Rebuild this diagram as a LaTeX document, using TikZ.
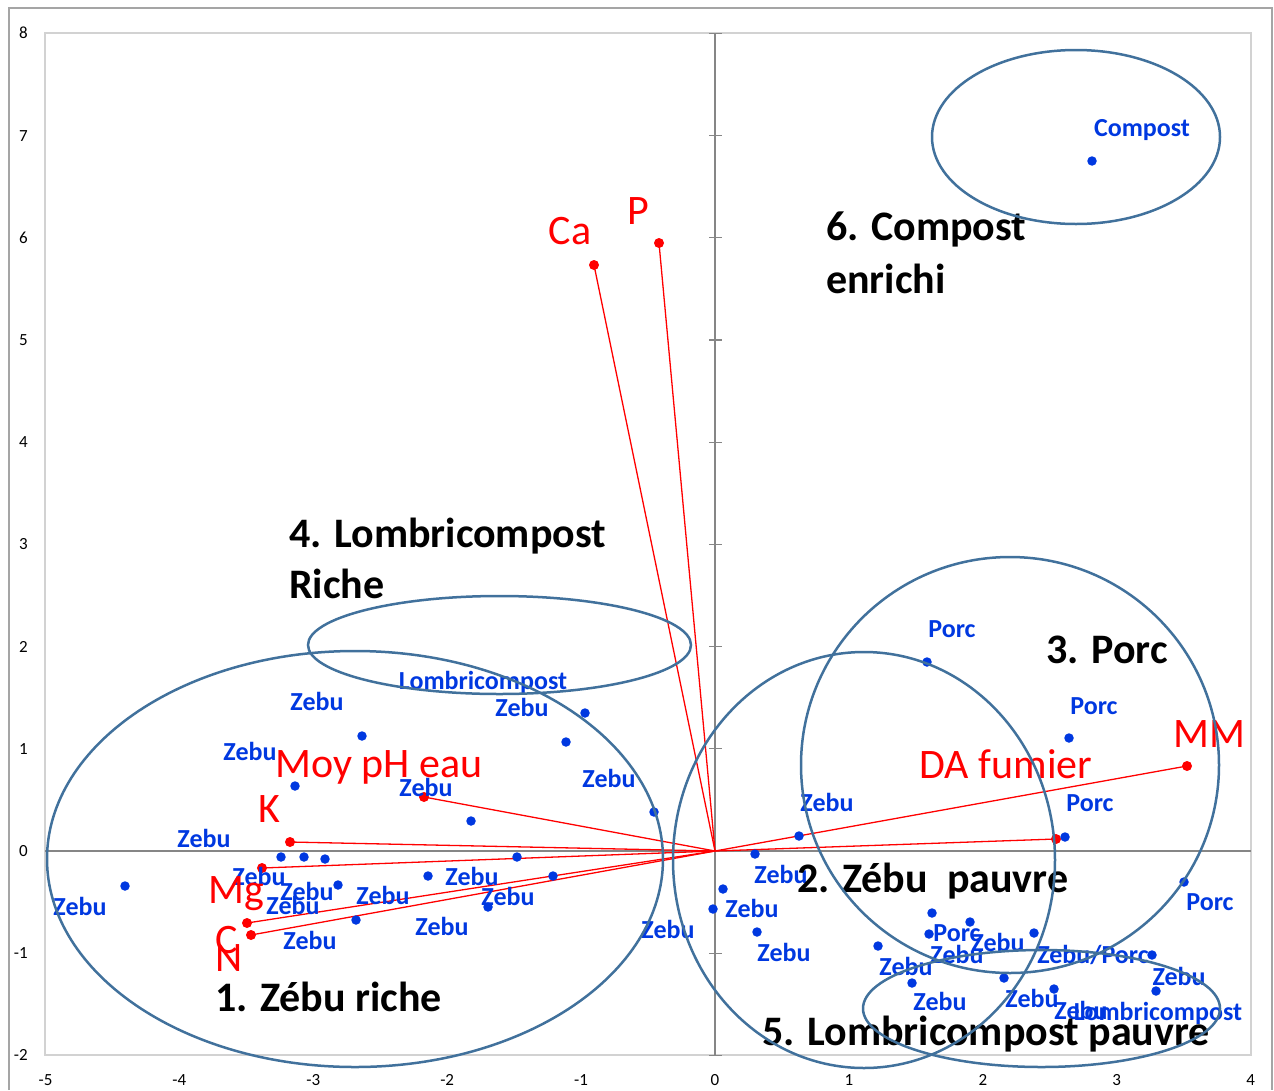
\documentclass[tikz,border=0pt]{standalone}
\usepackage{fontspec}
\setmainfont{Carlito}
\definecolor{ellc}{RGB}{65,113,156}
\definecolor{ptblue}{RGB}{0,56,224}
\definecolor{axisc}{RGB}{134,134,134}
\definecolor{plotc}{RGB}{210,210,210}
\definecolor{outerc}{RGB}{165,165,165}
\tikzset{
  bdot/.style={circle, fill=ptblue, inner sep=0pt, minimum size=9.5pt},
  rdot/.style={circle, fill=red, inner sep=0pt, minimum size=10pt},
  blbl/.style={text=ptblue, font=\fontsize{26}{30}\selectfont\bfseries, inner sep=0pt, text height=16.6pt, text depth=0pt},
  rlbl/.style={text=red, font=\fontsize{42}{50}\selectfont, inner sep=0pt, text height=26.9pt, text depth=0pt},
  klbl/.style={text=black, font=\fontsize{42}{50}\selectfont\bfseries, inner sep=0pt, text height=26.9pt, text depth=0pt, anchor=west},
  ticklbl/.style={font=\fontsize{17}{20}\selectfont, inner sep=0pt, text height=10.9pt, text depth=0pt},
  grp/.style={draw=ellc, line width=2.5pt},
  vec/.style={draw=red, line width=1.3pt},
  axl/.style={draw=axisc, line width=1.3pt},
}
\begin{document}
\begin{tikzpicture}[x=1pt,y=-1pt]
\useasboundingbox (0,0) rectangle (1274,1090);
% frames
\draw[outerc, line width=1.5pt] (9,1090) -- (9,8) -- (1272,8) -- (1272,1090);
\draw[plotc, line width=1.4pt] (45,33) rectangle (1251,1055);
% axes
\draw[axl] (45,851) -- (1251,851);
\draw[axl] (715,33) -- (715,1055);
\foreach \v in {-2,...,8} \draw[axl] (709,{851-102.2*\v}) -- (722,{851-102.2*\v});
\foreach \v in {-2,...,8} \node[ticklbl, anchor=east] (yt\v) at (28,{851-102.2*\v}) {\v};
\foreach \v in {-5,...,4} \node[ticklbl] (xt\v) at ({715+133.9*\v},1080) {\v};

% origin and variable vectors
\coordinate (O) at (715,851);
\node[rdot] (vCa) at (594,265) {};
\node[rdot] (vP) at (659,243) {};
\node[rdot] (vpH) at (424,797) {};
\node[rdot] (vK) at (290,842) {};
\node[rdot] (vMg) at (262,868) {};
\node[rdot] (vC) at (247,923) {};
\node[rdot] (vN) at (251,935) {};
\node[rdot] (vDA) at (1056,839) {};
\node[rdot] (vMM) at (1187,766) {};
\foreach \n in {vCa,vP,vpH,vK,vMg,vC,vN,vDA,vMM} \draw[vec] (O) -- (\n.center);

% blue observation points
\node[bdot] (b1) at (125,886) {};
\node[bdot] (b2) at (281,857) {};
\node[bdot] (b3) at (304,857) {};
\node[bdot] (b4) at (325,859) {};
\node[bdot] (b5) at (338,885) {};
\node[bdot] (b6) at (356,920) {};
\node[bdot] (b7) at (295,786) {};
\node[bdot] (b8) at (362,736) {};
\node[bdot] (b9) at (471,821) {};
\node[bdot] (b10) at (585,713) {};
\node[bdot] (b11) at (566,742) {};
\node[bdot] (b12) at (654,812) {};
\node[bdot] (b15) at (517,857) {};
\node[bdot] (b16) at (428,876) {};
\node[bdot] (b17) at (553,876) {};
\node[bdot] (b18) at (488,907) {};
\node[bdot] (b19) at (755,854) {};
\node[bdot] (b20) at (723,889) {};
\node[bdot] (b21) at (713,909) {};
\node[bdot] (b22) at (757,932) {};
\node[bdot] (b23) at (799,836) {};
\node[bdot] (b24) at (1065,837) {};
\node[bdot] (b25) at (1184,882) {};
\node[bdot] (b26) at (932,913) {};
\node[bdot] (b27) at (970,922) {};
\node[bdot] (b28) at (929,934) {};
\node[bdot] (b29) at (1034,933) {};
\node[bdot] (b30) at (878,946) {};
\node[bdot] (b31) at (1152,955) {};
\node[bdot] (b32) at (912,983) {};
\node[bdot] (b33) at (1004,978) {};
\node[bdot] (b34) at (1054,989) {};
\node[bdot] (b35) at (1156,991) {};
\node[bdot] (b36) at (927,662) {};
\node[bdot] (b37) at (1069,738) {};
\node[bdot] (b38) at (1092,161) {};

% blue labels
\node[blbl] (t1) at (1142,128) {Compost};
\node[blbl] (t2) at (952,629) {Porc};
\node[blbl] (t3) at (1094,706) {Porc};
\node[blbl] (t4) at (1090,803) {Porc};
\node[blbl] (t5) at (1210,902) {Porc};
\node[blbl] (t6) at (957,933) {Porc};
\node[blbl] (t7) at (1093,955) {Zebu/Porc};
\node[blbl] (t8) at (483,681) {Lombricompost};
\node[blbl] (t9) at (1158,1012) {Lombricompost};
\node[blbl] (z1) at (317,702) {Zebu};
\node[blbl] (z2) at (522,708) {Zebu};
\node[blbl] (z3) at (250,752) {Zebu};
\node[blbl] (z4) at (609,779) {Zebu};
\node[blbl] (z5) at (426,788) {Zebu};
\node[blbl] (z6) at (204,839) {Zebu};
\node[blbl] (z7) at (80,907) {Zebu};
\node[blbl] (z8) at (259,877) {Zebu};
\node[blbl] (z9) at (307,892) {Zebu};
\node[blbl] (z10) at (293,906) {Zebu};
\node[blbl] (z11) at (310,941) {Zebu};
\node[blbl] (z12) at (383,896) {Zebu};
\node[blbl] (z13) at (472,877) {Zebu};
\node[blbl] (z14) at (508,897) {Zebu};
\node[blbl] (z15) at (442,927) {Zebu};
\node[blbl] (z16) at (668,930) {Zebu};
\node[blbl] (z17) at (781,875) {Zebu};
\node[blbl] (z18) at (752,909) {Zebu};
\node[blbl] (z19) at (784,953) {Zebu};
\node[blbl] (z20) at (827,803) {Zebu};
\node[blbl] (z21) at (998,943) {Zebu};
\node[blbl] (z22) at (957,955) {Zebu};
\node[blbl] (z23) at (906,967) {Zebu};
\node[blbl] (z24) at (1179,977) {Zebu};
\node[blbl] (z25) at (940,1002) {Zebu};
\node[blbl] (z26) at (1032,999) {Zebu};
\node[blbl] (z27) at (1081,1011) {Zebu};

% red variable labels
\node[rlbl] (rCa) at (570,231) {Ca};
\node[rlbl] (rP) at (638,211) {P};
\node[rlbl, anchor=west] (rpH) at (275,764) {Moy pH eau};
\node[rlbl] (rK) at (269,809) {K};
\node[rlbl] (rMg) at (236,890) {Mg};
\node[rlbl] (rC) at (227,940) {C};
\node[rlbl] (rN) at (229,958) {N};
\node[rlbl] (rDA) at (1006,765) {DA fumier};
\node[rlbl] (rMM) at (1209,734) {MM};

% group labels
\node[klbl] (g6a) at (826,227) {6. Compost};
\node[klbl] (g6b) at (826,280) {enrichi};
\node[klbl] (g4a) at (289,534) {4. Lombricompost};
\node[klbl] (g4b) at (289,585) {Riche};
\node[klbl, anchor=center] (g3) at (1107,650) {3. Porc};
\node[klbl] (g2) at (797,879) {2. Zébu\ \ pauvre};
\node[klbl] (g1) at (215,998) {1. Zébu riche};
\node[klbl] (g5) at (762,1032) {5. Lombricompost pauvre};

% group ellipses
\draw[grp] (355,859) ellipse [x radius=308, y radius=208];
\draw[grp] (499.5,645) ellipse [x radius=191.5, y radius=49];
\draw[grp] (864,860) ellipse [x radius=191, y radius=208];
\draw[grp] (1010,765) ellipse [x radius=209, y radius=208];
\draw[grp] (1041.5,1008.5) ellipse [x radius=178.5, y radius=58.5];
\draw[grp] (1076,137) ellipse [x radius=144, y radius=87];
\end{tikzpicture}
\end{document}
